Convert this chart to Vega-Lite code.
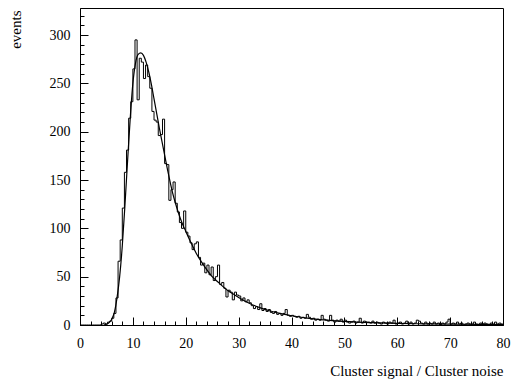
{
  "$schema": "https://vega.github.io/schema/vega-lite/v6.json",
  "width": 423,
  "height": 317,
  "autosize": {"type": "none"},
  "padding": {"left": 80, "top": 8, "right": 14, "bottom": 55},
  "background": "white",
  "config": {
    "view": {"stroke": "black", "strokeWidth": 1},
    "font": "Liberation Serif",
    "axis": {
      "labelFont": "Liberation Serif",
      "titleFont": "Liberation Serif",
      "labelFontSize": 14,
      "titleFontSize": 15,
      "titleFontWeight": "normal",
      "labelColor": "black",
      "titleColor": "black",
      "domainColor": "black",
      "tickColor": "black",
      "grid": false
    }
  },
  "datasets": {
    "hist": [
      {"x":0,"n":0},{"x":0.4,"n":0},{"x":0.8,"n":0},{"x":1.2,"n":0},{"x":1.6,"n":0},{"x":2.0,"n":0},{"x":2.4,"n":0},{"x":2.8,"n":0},{"x":3.2,"n":0},{"x":3.6,"n":0},
      {"x":4.0,"n":1},{"x":4.4,"n":2},{"x":4.8,"n":1},{"x":5.2,"n":3},{"x":5.6,"n":4},{"x":6.0,"n":7},{"x":6.4,"n":12},{"x":6.8,"n":28},{"x":7.2,"n":66},{"x":7.6,"n":88},
      {"x":8.0,"n":121},{"x":8.4,"n":158},{"x":8.8,"n":181},{"x":9.2,"n":214},{"x":9.6,"n":231},{"x":10.0,"n":265},{"x":10.4,"n":295},{"x":10.8,"n":233},{"x":11.2,"n":276},{"x":11.6,"n":272},
      {"x":12.0,"n":255},{"x":12.4,"n":269},{"x":12.8,"n":257},{"x":13.2,"n":245},{"x":13.6,"n":221},{"x":14.0,"n":212},{"x":14.4,"n":210},{"x":14.8,"n":196},{"x":15.2,"n":197},{"x":15.6,"n":213},
      {"x":16.0,"n":167},{"x":16.4,"n":166},{"x":16.8,"n":129},{"x":17.2,"n":140},{"x":17.6,"n":148},{"x":18.0,"n":126},{"x":18.4,"n":117},{"x":18.8,"n":106},{"x":19.2,"n":100},{"x":19.6,"n":118},
      {"x":20.0,"n":96},{"x":20.4,"n":92},{"x":20.8,"n":85},{"x":21.2,"n":78},{"x":21.6,"n":84},{"x":22.0,"n":86},{"x":22.4,"n":70},{"x":22.8,"n":62},{"x":23.2,"n":64},{"x":23.6,"n":54},
      {"x":24.0,"n":62},{"x":24.4,"n":52},{"x":24.8,"n":60},{"x":25.2,"n":46},{"x":25.6,"n":50},{"x":26.0,"n":62},{"x":26.4,"n":42},{"x":26.8,"n":44},{"x":27.2,"n":38},{"x":27.6,"n":29},
      {"x":28.0,"n":36},{"x":28.4,"n":34},{"x":28.8,"n":26},{"x":29.2,"n":34},{"x":29.6,"n":31},{"x":30.0,"n":30},{"x":30.4,"n":25},{"x":30.8,"n":28},{"x":31.2,"n":24},{"x":31.6,"n":26},
      {"x":32.0,"n":23},{"x":32.4,"n":20},{"x":32.8,"n":17},{"x":33.2,"n":19},{"x":33.6,"n":16},{"x":34.0,"n":22},{"x":34.4,"n":15},{"x":34.8,"n":17},{"x":35.2,"n":14},{"x":35.6,"n":16},
      {"x":36.0,"n":13},{"x":36.4,"n":12},{"x":36.8,"n":14},{"x":37.2,"n":11},{"x":37.6,"n":12},{"x":38.0,"n":10},{"x":38.4,"n":12},{"x":38.8,"n":16},{"x":39.2,"n":10},{"x":39.6,"n":9},
      {"x":40.0,"n":10},{"x":40.4,"n":9},{"x":40.8,"n":8},{"x":41.2,"n":9},{"x":41.6,"n":7},{"x":42.0,"n":8},{"x":42.4,"n":7},{"x":42.8,"n":11},{"x":43.2,"n":8},{"x":43.6,"n":6},
      {"x":44.0,"n":7},{"x":44.4,"n":5},{"x":44.8,"n":6},{"x":45.2,"n":5},{"x":45.6,"n":10},{"x":46.0,"n":6},{"x":46.4,"n":5},{"x":46.8,"n":4},{"x":47.2,"n":10},{"x":47.6,"n":5},
      {"x":48.0,"n":3},{"x":48.4,"n":5},{"x":48.8,"n":4},{"x":49.2,"n":6},{"x":49.6,"n":3},{"x":50.0,"n":5},{"x":50.4,"n":3},{"x":50.8,"n":2},{"x":51.2,"n":3},{"x":51.6,"n":4},
      {"x":52.0,"n":2},{"x":52.4,"n":3},{"x":52.8,"n":7},{"x":53.2,"n":2},{"x":53.6,"n":4},{"x":54.0,"n":3},{"x":54.4,"n":3},{"x":54.8,"n":2},{"x":55.2,"n":4},{"x":55.6,"n":2},
      {"x":56.0,"n":3},{"x":56.4,"n":2},{"x":56.8,"n":1},{"x":57.2,"n":3},{"x":57.6,"n":2},{"x":58.0,"n":1},{"x":58.4,"n":3},{"x":58.8,"n":2},{"x":59.2,"n":5},{"x":59.6,"n":1},
      {"x":60.0,"n":2},{"x":60.4,"n":3},{"x":60.8,"n":1},{"x":61.2,"n":2},{"x":61.6,"n":4},{"x":62.0,"n":1},{"x":62.4,"n":3},{"x":62.8,"n":1},{"x":63.2,"n":2},{"x":63.6,"n":5},
      {"x":64.0,"n":4},{"x":64.4,"n":2},{"x":64.8,"n":1},{"x":65.2,"n":3},{"x":65.6,"n":1},{"x":66.0,"n":2},{"x":66.4,"n":1},{"x":66.8,"n":3},{"x":67.2,"n":1},{"x":67.6,"n":2},
      {"x":68.0,"n":0},{"x":68.4,"n":2},{"x":68.8,"n":1},{"x":69.2,"n":3},{"x":69.6,"n":6},{"x":70.0,"n":1},{"x":70.4,"n":2},{"x":70.8,"n":1},{"x":71.2,"n":3},{"x":71.6,"n":1},
      {"x":72.0,"n":2},{"x":72.4,"n":0},{"x":72.8,"n":1},{"x":73.2,"n":2},{"x":73.6,"n":1},{"x":74.0,"n":1},{"x":74.4,"n":3},{"x":74.8,"n":1},{"x":75.2,"n":0},{"x":75.6,"n":2},
      {"x":76.0,"n":1},{"x":76.4,"n":2},{"x":76.8,"n":1},{"x":77.2,"n":0},{"x":77.6,"n":2},{"x":78.0,"n":1},{"x":78.4,"n":3},{"x":78.8,"n":1},{"x":79.2,"n":2},{"x":79.6,"n":1},{"x":80.0,"n":1}
    ],
    "fit": [
      {"x":4.5,"f":0},{"x":5,"f":0.8},{"x":5.5,"f":2.5},{"x":6,"f":6},{"x":6.5,"f":13},{"x":7,"f":28},{"x":7.5,"f":50},{"x":8,"f":82},{"x":8.5,"f":124},{"x":9,"f":170},
      {"x":9.5,"f":214},{"x":10,"f":250},{"x":10.5,"f":271},{"x":11,"f":280},{"x":11.5,"f":281.5},{"x":12,"f":279},{"x":12.5,"f":272},{"x":13,"f":262},{"x":13.5,"f":249},{"x":14,"f":234},
      {"x":14.5,"f":219},{"x":15,"f":204},{"x":15.5,"f":190},{"x":16,"f":176},{"x":16.5,"f":162},{"x":17,"f":149},{"x":17.5,"f":137},{"x":18,"f":127},{"x":18.5,"f":118},{"x":19,"f":110},
      {"x":19.5,"f":103},{"x":20,"f":97},{"x":21,"f":85},{"x":22,"f":74},{"x":23,"f":65},{"x":24,"f":57},{"x":25,"f":50},{"x":26,"f":45},{"x":27,"f":40},{"x":28,"f":35.5},
      {"x":29,"f":32},{"x":30,"f":28.5},{"x":32,"f":22.5},{"x":34,"f":18},{"x":36,"f":14.5},{"x":38,"f":11.8},{"x":40,"f":9.6},{"x":43,"f":7.2},{"x":46,"f":5.4},{"x":50,"f":3.8},
      {"x":55,"f":2.5},{"x":60,"f":1.7},{"x":65,"f":1.2},{"x":70,"f":0.9},{"x":75,"f":0.7},{"x":80,"f":0.5}
    ]
  },
  "layer": [
    {
      "data": {"name": "hist"},
      "mark": {"type": "line", "interpolate": "step-after", "color": "black", "strokeWidth": 1, "clip": true},
      "encoding": {
        "x": {
          "field": "x", "type": "quantitative",
          "scale": {"domain": [0, 80], "nice": false, "zero": false},
          "axis": {
            "title": "Cluster signal / Cluster noise",
            "values": [0,2,4,6,8,10,12,14,16,18,20,22,24,26,28,30,32,34,36,38,40,42,44,46,48,50,52,54,56,58,60,62,64,66,68,70,72,74,76,78,80],
            "tickCount": 200,
            "format": "d",
            "labelFont": "Liberation Serif",
            "titleFont": "Liberation Serif",
            "labelExpr": "datum.value % 10 === 0 ? datum.label : ''",
            "tickSize": {"condition": {"test": "datum.value % 10 === 0", "value": -8}, "value": -4},
            "labelPadding": 19,
            "labelFlush": false,
            "labelOverlap": false,
            "titleAnchor": "end",
            "titleAlign": "right",
            "titleX": 423,
            "titleY": 50,
            "titleBaseline": "alphabetic"
          }
        },
        "y": {
          "field": "n", "type": "quantitative",
          "scale": {"domain": [0, 328], "nice": false},
          "axis": {
            "title": "events",
            "values": [0,10,20,30,40,50,60,70,80,90,100,110,120,130,140,150,160,170,180,190,200,210,220,230,240,250,260,270,280,290,300,310,320],
            "tickCount": 200,
            "format": "d",
            "labelFont": "Liberation Serif",
            "titleFont": "Liberation Serif",
            "labelExpr": "datum.value % 50 === 0 ? datum.label : ''",
            "tickSize": {"condition": {"test": "datum.value % 50 === 0", "value": -8}, "value": -4},
            "labelPadding": 18,
            "labelFlush": false,
            "labelOverlap": false,
            "titleAngle": -90,
            "titleAlign": "right",
            "titleBaseline": "middle",
            "titleX": -65,
            "titleY": 2
          }
        }
      }
    },
    {
      "data": {"name": "fit"},
      "mark": {"type": "line", "interpolate": "monotone", "color": "black", "strokeWidth": 1.2, "clip": true},
      "encoding": {
        "x": {"field": "x", "type": "quantitative"},
        "y": {"field": "f", "type": "quantitative"}
      }
    }
  ]
}
